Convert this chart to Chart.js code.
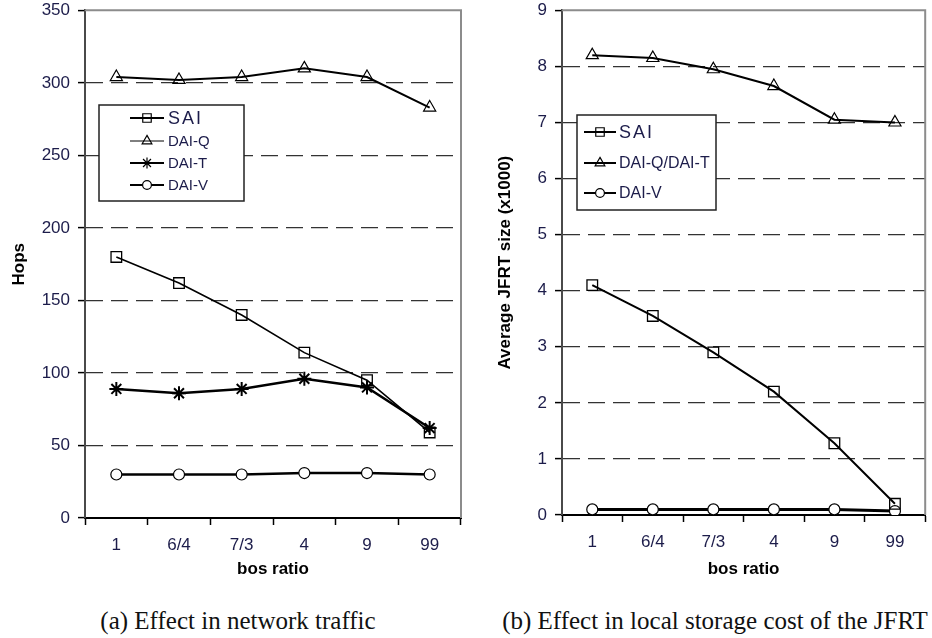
<!DOCTYPE html>
<html>
<head>
<meta charset="utf-8">
<script src="https://cdn.jsdelivr.net/npm/chart.js@4"></script>
<style>
html, body { margin: 0; padding: 0; background: #fff; overflow: hidden; width: 932px; height: 638px; }
#left { position: absolute; left: 0; top: -7px; }
#right { position: absolute; left: 470px; top: -7px; }
.cap { position: absolute; top: 607px; font-family: "Liberation Serif", serif; font-size: 25px; color: #111; white-space: nowrap; transform: translateX(-50%); }
</style>
</head>
<body>
<canvas id="left" width="470" height="607"></canvas>
<canvas id="right" width="464" height="607"></canvas>
<div class="cap" style="left:238px">(a) Effect in network traffic</div>
<div class="cap" style="left:715px">(b) Effect in local storage cost of the JFRT</div>
<script>
// ===== data =====
const ratios = ['1', '6/4', '7/3', '4', '9', '99'];

// (a) hops
const hopsSAI  = [180, 162, 140, 114, 95, 59];
const hopsDAIQ = [304, 302, 304, 310, 304, 283];
const hopsDAIT = [89, 86, 89, 96, 90, 62];
const hopsDAIV = [30, 30, 30, 31, 31, 30];
const hopsMax = 350, hopsStep = 50;

// (b) average JFRT size (x1000)
const jfrtSAI    = [4.1, 3.55, 2.9, 2.2, 1.28, 0.2];
const jfrtDAIQT  = [8.2, 8.15, 7.95, 7.65, 7.05, 7.0];
const jfrtDAIV   = [0.1, 0.1, 0.1, 0.1, 0.1, 0.07];
const jfrtMax = 9, jfrtStep = 1;

const tickCol = '#1c1c4a';
const sans = 'Liberation Sans, Arial, sans-serif';

// gray frame on top and right of plot area
const frame = {
  id: 'frame',
  beforeDatasetsDraw(chart) {
    const { ctx, chartArea: a } = chart;
    ctx.save();
    ctx.strokeStyle = '#8c8c8c';
    ctx.lineWidth = 2;
    ctx.beginPath();
    ctx.moveTo(a.left, a.top);
    ctx.lineTo(a.right, a.top);
    ctx.lineTo(a.right, a.bottom);
    ctx.stroke();
    ctx.restore();
  }
};

// boxed legend with line + marker samples (coords in canvas space)
const boxLegend = {
  id: 'boxLegend',
  afterDatasetsDraw(chart, args, o) {
    const ctx = chart.ctx;
    ctx.save();
    ctx.fillStyle = '#fff';
    ctx.fillRect(o.x, o.y, o.w, o.h);
    ctx.strokeStyle = '#222';
    ctx.lineWidth = 1.5;
    ctx.strokeRect(o.x, o.y, o.w, o.h);
    chart.data.datasets.forEach((ds, i) => {
      const r = o.rows[i];
      ctx.strokeStyle = '#000';
      ctx.lineWidth = r.lw;
      ctx.beginPath();
      ctx.moveTo(o.l0, r.y);
      ctx.lineTo(o.l1, r.y);
      ctx.stroke();
      ctx.lineWidth = 1.2;
      ctx.fillStyle = ds.pointStyle === 'circle' ? '#fff' : 'rgba(0,0,0,0)';
      Chart.helpers.drawPoint(ctx, { pointStyle: ds.pointStyle, radius: ds.pointRadius * 0.8, borderWidth: 1.2, rotation: 0 }, (o.l0 + o.l1) / 2, r.y);
      ctx.fillStyle = tickCol;
      ctx.font = r.font;
      ctx.letterSpacing = r.ls || '0px';
      ctx.textBaseline = 'middle';
      ctx.textAlign = 'left';
      ctx.fillText(ds.label, o.tx, r.y + 1);
      ctx.letterSpacing = '0px';
    });
    ctx.restore();
  }
};

function series(label, data, style, radius, lw, pbw) {
  return {
    label, data,
    borderColor: '#000', borderWidth: lw,
    pointStyle: style, pointRadius: radius, pointHoverRadius: radius,
    pointBorderColor: '#000', pointBorderWidth: pbw,
    pointBackgroundColor: style === 'circle' ? '#fff' : 'rgba(0,0,0,0)',
    tension: 0, fill: false
  };
}

function scales(max, step, yTitle, yWidth, yTitlePad, xHeight) {
  return {
    x: {
      type: 'category', offset: true,
      grid: { offset: true, drawOnChartArea: false, drawTicks: true, tickLength: 7, tickColor: '#000', tickWidth: 1.5 },
      border: { color: '#000', width: 2 },
      ticks: { color: tickCol, font: { family: sans, size: 17, lineHeight: 1.2 }, padding: 10, maxRotation: 0 },
      title: { display: true, text: 'bos ratio', color: '#000', font: { family: sans, size: 17, weight: 'bold', lineHeight: 1.2 }, padding: { top: 2, bottom: 20 } },
      afterFit: s => { s.height = xHeight; }
    },
    y: {
      min: 0, max: max,
      ticks: { stepSize: step, color: tickCol, font: { family: sans, size: 17, lineHeight: 1.1 }, padding: 8 },
      grid: {
        color: c => (c.tick && (c.tick.value === 0 || c.tick.value === max)) ? 'rgba(0,0,0,0)' : '#333',
        lineWidth: 1.2, drawTicks: true, tickLength: 7, tickColor: '#000', tickWidth: 1.5, tickBorderDash: []
      },
      border: { color: '#4a4a4a', width: 2, dash: [17, 8] },
      title: { display: true, text: yTitle, color: '#000', font: { family: sans, size: 17, weight: 'bold', lineHeight: 1.2 }, padding: { top: yTitlePad, bottom: 0 } },
      afterFit: s => { s.width = yWidth; }
    }
  };
}

Chart.defaults.devicePixelRatio = 1;

new Chart(document.getElementById('left'), {
  type: 'line',
  data: {
    labels: ratios,
    datasets: [
      series('SAI', hopsSAI, 'rect', 7.5, 1.6, 1.3),
      series('DAI-Q', hopsDAIQ, 'triangle', 7, 2, 1.2),
      series('DAI-T', hopsDAIT, 'star', 7, 2.5, 2),
      series('DAI-V', hopsDAIV, 'circle', 5.5, 2.5, 1.2)
    ]
  },
  options: {
    responsive: false, animation: false,
    layout: { padding: { top: 3, right: 6, left: 0, bottom: 0 } },
    plugins: {
      legend: { display: false }, tooltip: { enabled: false },
      boxLegend: {
        x: 99, y: 112, w: 145, h: 96, l0: 130, l1: 164, tx: 168,
        rows: [
          { y: 125, lw: 2, font: '18px ' + sans, ls: '2px' },
          { y: 148, lw: 1, font: '15px ' + sans },
          { y: 170, lw: 2, font: '15px ' + sans },
          { y: 192, lw: 2, font: '15px ' + sans }
        ]
      }
    },
    scales: scales(hopsMax, hopsStep, 'Hops', 85, 9, 82)
  },
  plugins: [frame, boxLegend]
});

new Chart(document.getElementById('right'), {
  type: 'line',
  data: {
    labels: ratios,
    datasets: [
      series('SAI', jfrtSAI, 'rect', 7.5, 2, 1.3),
      series('DAI-Q/DAI-T', jfrtDAIQT, 'triangle', 7, 2, 1.2),
      series('DAI-V', jfrtDAIV, 'circle', 5.5, 3, 1.2)
    ]
  },
  options: {
    responsive: false, animation: false,
    layout: { padding: { top: 2, right: 0, left: 0, bottom: 0 } },
    plugins: {
      legend: { display: false }, tooltip: { enabled: false },
      boxLegend: {
        x: 107, y: 122, w: 139, h: 95, l0: 114, l1: 146, tx: 149,
        rows: [
          { y: 139, lw: 2, font: '18px ' + sans, ls: '2px' },
          { y: 170, lw: 2, font: '16px ' + sans },
          { y: 200, lw: 2, font: '16px ' + sans }
        ]
      }
    },
    scales: scales(jfrtMax, jfrtStep, 'Average JFRT size (x1000)', 92, 25, 85)
  },
  plugins: [frame, boxLegend]
});
</script>
</body>
</html>
